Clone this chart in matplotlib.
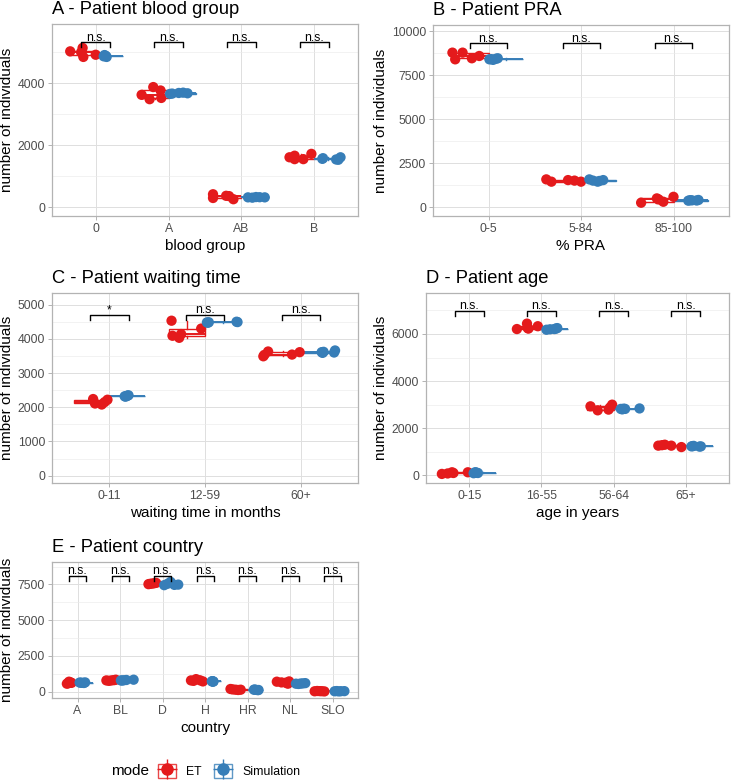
import numpy as np
import matplotlib.pyplot as plt
from matplotlib.patches import Patch
from matplotlib.lines import Line2D
from matplotlib.legend_handler import HandlerTuple
from matplotlib.ticker import MultipleLocator

plt.rcParams['font.family'] = ['Liberation Sans', 'DejaVu Sans']

RED = '#E41A1C'
BLUE = '#377EB8'

## A - blood group
cats_a = ["0", "A", "AB", "B"]
a_et = [[5020, 5130, 4840, 4910, 4990], [3620, 3870, 3480, 3760, 3520],
        [420, 300, 370, 360, 260], [1610, 1550, 1660, 1550, 1720]]
a_et_off = [[-0.35, -0.18, -0.17, 0.0, -0.2], [-0.37, -0.21, -0.26, -0.11, -0.10],
            [-0.39, -0.39, -0.21, -0.17, -0.11], [-0.34, -0.27, -0.27, -0.15, -0.04]]
a_sim = [[4860, 4880, 4840, 4900, 4870], [3650, 3680, 3670, 3660, 3690],
         [320, 330, 320, 310, 325], [1560, 1530, 1610, 1540, 1580]]
a_sim_off = [[0.11, 0.13, 0.15, 0.12, 0.14], [0.02, 0.14, 0.26, 0.05, 0.2],
             [0.09, 0.20, 0.32, 0.15, 0.25], [0.11, 0.33, 0.36, 0.3, 0.12]]
a_sig = ["n.s.", "n.s.", "n.s.", "n.s."]

## B - PRA
cats_b = ["0-5", "5-84", "85-100"]
b_et = [[8790, 8410, 8790, 8470, 8600], [1590, 1460, 1550, 1520, 1460], [265, 510, 320, 600, 450]]
b_et_off = [[-0.39, -0.36, -0.28, -0.18, -0.10], [-0.375, -0.32, -0.14, -0.07, 0.0],
            [-0.35, -0.18, -0.11, 0.0, -0.16]]
b_sim = [[8410, 8470, 8380, 8440, 8420], [1590, 1460, 1550, 1500, 1520], [380, 420, 400, 390, 410]]
b_sim_off = [[0.01, 0.10, 0.05, 0.08, 0.03], [0.09, 0.18, 0.24, 0.2, 0.13], [0.16, 0.27, 0.2, 0.25, 0.18]]
b_sig = ["n.s.", "n.s.", "n.s."]

## C - waiting time
cats_c = ["0-11", "12-59", "60+"]
c_et = [[2240, 2110, 2080, 2220, 2150], [4530, 4090, 4030, 4140, 4300], [3490, 3630, 3540, 3610, 3530]]
c_et_off = [[-0.17, -0.15, -0.08, -0.02, -0.05], [-0.35, -0.34, -0.27, -0.25, -0.04],
            [-0.39, -0.34, -0.09, -0.01, -0.38]]
c_sim = [[2320, 2350, 2330, 2310, 2340], [4480, 4490, 4470, 4500, 4485], [3590, 3660, 3610, 3600, 3620]]
c_sim_off = [[0.16, 0.20, 0.18, 0.17, 0.19], [0.02, 0.34, 0.03, 0.33, 0.04], [0.23, 0.36, 0.22, 0.35, 0.24]]
c_sig = ["*", "n.s.", "n.s."]

## D - age
cats_d = ["0-15", "16-55", "56-64", "65+"]
d_et = [[60, 130, 100, 130, 80], [6210, 6440, 6250, 6330, 6230],
        [2930, 2760, 2790, 3000, 2880], [1260, 1300, 1260, 1200, 1280]]
d_et_off = [[-0.38, -0.24, -0.22, -0.02, -0.3], [-0.34, -0.20, -0.19, -0.05, -0.18],
            [-0.32, -0.22, -0.07, -0.02, -0.05], [-0.38, -0.29, -0.20, -0.06, -0.33]]
d_sim = [[130, 100, 110, 90, 120], [6180, 6210, 6250, 6200, 6230],
         [2820, 2820, 2840, 2800, 2830], [1230, 1230, 1250, 1220, 1240]]
d_sim_off = [[0.08, 0.12, 0.10, 0.06, 0.09], [0.07, 0.18, 0.22, 0.12, 0.2],
             [0.10, 0.16, 0.36, 0.12, 0.14], [0.08, 0.21, 0.11, 0.19, 0.1]]
d_sig = ["n.s.", "n.s.", "n.s.", "n.s."]

## E - country
cats_e = ["A", "BL", "D", "H", "HR", "NL", "SLO"]
e_et = [[560, 700, 640, 590, 620], [790, 790, 840, 760, 810], [7520, 7560, 7610, 7580, 7540],
        [790, 880, 720, 760, 800], [190, 140, 140, 160, 120], [700, 630, 560, 720, 650],
        [30, 40, 20, 50, 35]]
e_et_off = [[-0.25, -0.2, -0.16, -0.22, -0.14], [-0.32, -0.2, -0.1, -0.26, -0.14],
            [-0.33, -0.25, -0.15, -0.2, -0.3], [-0.33, -0.21, -0.05, -0.27, -0.12],
            [-0.4, -0.28, -0.16, -0.35, -0.22], [-0.31, -0.1, -0.05, -0.02, -0.2],
            [-0.42, -0.3, -0.19, -0.36, -0.25]]
e_sim = [[640, 620, 650, 630, 610], [790, 840, 800, 820, 780], [7450, 7680, 7490, 7550, 7470],
         [720, 730, 710, 725, 715], [140, 120, 130, 110, 150], [560, 600, 540, 580, 570],
         [30, 40, 20, 35, 45]]
e_sim_off = [[0.05, 0.12, 0.18, 0.08, 0.15], [0.02, 0.32, 0.09, 0.15, 0.05],
             [0.04, 0.19, 0.37, 0.12, 0.28], [0.18, 0.17, 0.19, 0.16, 0.2],
             [0.15, 0.26, 0.2, 0.24, 0.17], [0.14, 0.36, 0.2, 0.3, 0.25],
             [0.05, 0.28, 0.15, 0.2, 0.1]]
e_sig = ["n.s."] * 7

fig = plt.figure(figsize=(7.33, 7.8), dpi=100)
W, H = 733, 780


def make_ax(left, top, right, bottom):
    return fig.add_axes([left / W, 1 - bottom / H, (right - left) / W, (bottom - top) / H])


def panel(ax, title, xlabel, cats, et, et_off, sim, sim_off, sig, sig_y, ylim, ystep):
    pos = np.arange(len(cats))
    for vals, col, shift in [(et, RED, -0.1875), (sim, BLUE, 0.1875)]:
        bp = ax.boxplot(vals, positions=pos + shift, widths=0.375, patch_artist=True,
                        showfliers=False, showcaps=False, manage_ticks=False, zorder=2)
        for b in bp['boxes']:
            b.set(facecolor='white', edgecolor=col, linewidth=1)
        for w in bp['whiskers']:
            w.set(color=col, linewidth=1)
        for m in bp['medians']:
            m.set(color=col, linewidth=1.4)
    for vals, offs, col in [(et, et_off, RED), (sim, sim_off, BLUE)]:
        for i in range(len(cats)):
            ax.scatter(pos[i] + np.array(offs[i]), vals[i], s=55, color=col,
                       edgecolors='none', zorder=3)
    # significance brackets
    ax_h = ax.get_position().height * H
    d = 5 / ax_h * (ylim[1] - ylim[0])
    for i, s in enumerate(sig):
        ax.plot([pos[i] - 0.2, pos[i] - 0.2, pos[i] + 0.2, pos[i] + 0.2],
                [sig_y - d, sig_y, sig_y, sig_y - d], color='black', lw=1, zorder=4)
        ax.annotate(s, (pos[i], sig_y), xytext=(0, 1), textcoords='offset points',
                    ha='center', va='baseline', fontsize=8.8, zorder=5)

    ax.set_xlim(-0.6, len(cats) - 0.4)
    ax.set_ylim(ylim)
    ax.set_xticks(pos)
    ax.set_xticklabels(cats)
    ax.yaxis.set_major_locator(MultipleLocator(ystep))
    ax.yaxis.set_minor_locator(MultipleLocator(ystep / 2))
    ax.grid(True, which='major', color='#DEDEDE', lw=0.7)
    ax.grid(True, which='minor', axis='y', color='#EBEBEB', lw=0.45)
    ax.set_axisbelow(True)
    for sp in ax.spines.values():
        sp.set_color('#B3B3B3')
        sp.set_linewidth(0.9)
    ax.tick_params(which='major', length=3, width=0.7, color='#B3B3B3',
                   labelsize=8.8, labelcolor='#4D4D4D', pad=2)
    ax.tick_params(which='minor', length=0)
    ax.set_xlabel(xlabel, fontsize=11, labelpad=3)
    ax.set_ylabel("number of individuals", fontsize=11, labelpad=3)
    ax.set_title(title, loc='left', fontsize=13.2, pad=7)


ax_a = make_ax(52, 24, 358, 216)
panel(ax_a, "A - Patient blood group", "blood group", cats_a, a_et, a_et_off,
      a_sim, a_sim_off, a_sig, 5310, (-280, 5900), 2000)

ax_b = make_ax(433, 25, 729, 216)
panel(ax_b, "B - Patient PRA", "% PRA", cats_b, b_et, b_et_off,
      b_sim, b_sim_off, b_sig, 9320, (-490, 10360), 2500)

ax_c = make_ax(52, 293, 358, 483)
panel(ax_c, "C - Patient waiting time", "waiting time in months", cats_c, c_et, c_et_off,
      c_sim, c_sim_off, c_sig, 4710, (-214, 5340), 1000)

ax_d = make_ax(426, 293, 729, 483)
panel(ax_d, "D - Patient age", "age in years", cats_d, d_et, d_et_off,
      d_sim, d_sim_off, d_sig, 6990, (-325, 7740), 2000)

ax_e = make_ax(52, 562, 358, 698)
panel(ax_e, "E - Patient country", "country", cats_e, e_et, e_et_off,
      e_sim, e_sim_off, e_sig, 8100, (-440, 9070), 2500)

## legend
def key(col):
    return (Patch(facecolor='white', edgecolor=col, linewidth=1, alpha=0.8),
            Line2D([], [], color=col, marker='+', markersize=15, markeredgewidth=1, linestyle='None'),
            Line2D([], [], color=col, marker='o', markersize=8, linestyle='None'))

fig.text(111 / W, 1 - 771 / H, "mode", fontsize=11, va='center', ha='left')
fig.legend([key(RED), key(BLUE)], ["ET", "Simulation"],
           handler_map={tuple: HandlerTuple(ndivide=1)},
           loc='center left', bbox_to_anchor=(158 / W, 1 - 771 / H), ncol=2,
           frameon=False, fontsize=8.8, handlelength=1.5, handleheight=1.5,
           handletextpad=0.8, columnspacing=1.0, borderpad=0, borderaxespad=0)

fig.savefig("out.png", dpi=100)
